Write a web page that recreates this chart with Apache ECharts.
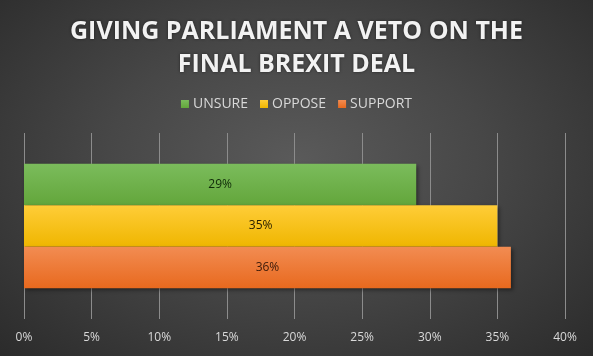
<!DOCTYPE html>
<html>
<head>
<meta charset="utf-8">
<script src="https://cdn.jsdelivr.net/npm/echarts@6/dist/echarts.min.js"></script>
<style>
html,body{margin:0;padding:0;}
#c{width:593px;height:356px;background:radial-gradient(ellipse at 50% 45%, #5a5a5a 0%, #474747 45%, #2b2b2b 100%);}
</style>
</head>
<body>
<div id="c"></div>
<script>
const categories = ['Veto'];
const seriesNames = ['UNSURE', 'OPPOSE', 'SUPPORT'];
const unsure = [29];
const oppose = [35];
const support = [36];
const xTicks = [0, 5, 10, 15, 20, 25, 30, 35, 40];

const chart = echarts.init(document.getElementById('c'), null, {renderer: 'canvas'});

function grad(top, bottom) {
  return new echarts.graphic.LinearGradient(0, 0, 0, 1, [
    {offset: 0, color: top}, {offset: 1, color: bottom}
  ]);
}

function mk(name, data, c1, c2, labelColor) {
  return {
    name: name,
    type: 'bar',
    data: data,
    barGap: '0%',
    barCategoryGap: '33%',
    itemStyle: {
      color: grad(c1, c2),
      shadowColor: 'rgba(0,0,0,0.45)',
      shadowBlur: 4,
      shadowOffsetX: 2,
      shadowOffsetY: 2
    },
    label: {
      show: true,
      position: 'inside',
      formatter: '{c}%',
      color: labelColor,
      fontFamily: 'Open Sans',
      fontSize: 12
    }
  };
}

chart.setOption({
  backgroundColor: 'transparent',
  title: {
    text: 'GIVING PARLIAMENT A VETO ON THE\nFINAL BREXIT DEAL',
    left: 'center',
    top: 10,
    textStyle: {
      color: '#f2f2f2',
      fontFamily: 'Open Sans',
      fontWeight: 'bold',
      fontSize: 25,
      lineHeight: 33,
      textShadowColor: 'rgba(0,0,0,0.5)',
      textShadowBlur: 3
    }
  },
  legend: {
    data: seriesNames,
    top: 92,
    left: 'center',
    itemWidth: 8,
    itemHeight: 8,
    itemGap: 12,
    icon: 'rect',
    textStyle: {color: '#d9d9d9', fontFamily: 'Open Sans', fontSize: 14, padding: [0, 0, 0, -1]}
  },
  grid: {left: 24, right: 28, top: 133, bottom: 37, containLabel: false},
  xAxis: {
    type: 'value',
    min: xTicks[0],
    max: xTicks[xTicks.length - 1],
    interval: xTicks[1] - xTicks[0],
    axisLine: {show: false},
    axisTick: {show: false},
    splitLine: {show: true, lineStyle: {color: '#8c8c8c', width: 1}},
    axisLabel: {
      formatter: '{value}%',
      color: '#d9d9d9',
      fontFamily: 'Open Sans',
      fontSize: 12,
      margin: 13
    }
  },
  yAxis: {
    type: 'category',
    data: categories,
    axisLine: {show: false},
    axisTick: {show: false},
    axisLabel: {show: false}
  },
  series: [
    mk('UNSURE', unsure, '#7bbc5c', '#63a63b', '#0f2a08'),
    mk('OPPOSE', oppose, '#ffcd38', '#efb600', '#2a2000'),
    mk('SUPPORT', support, '#f28c52', '#e8691e', '#3a1a0a')
  ],
  color: ['#70ad47', '#ffc000', '#ed7d31']
});
</script>
</body>
</html>
